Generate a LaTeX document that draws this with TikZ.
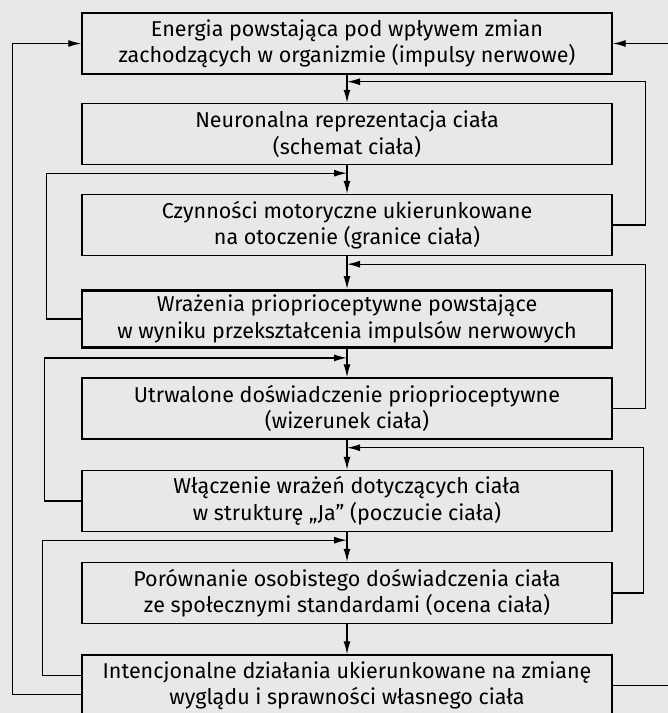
\documentclass[tikz,border=0pt]{standalone}
\usepackage{fontspec}
\setmainfont{Fira Sans}
\usetikzlibrary{arrows.meta}

\begin{document}
\begin{tikzpicture}[x=1pt, y=-1pt,
    box/.style={draw, line width=1.4pt, minimum width=530pt, minimum height=61pt,
        inner sep=0pt, align=center, font=\fontsize{21.5}{26.5}\selectfont},
    flow/.style={line width=1.3pt, -{Latex[length=13pt,width=7pt]}}]
    % Page and scanned paper
    \clip (0,0) rectangle (668,713);
    \fill[black!9] (0,0) rectangle (668,713);

    % Boxes
    \node[box] (b1) at (347,43.5) {Energia powstająca pod wpływem zmian\\zachodzących w organizmie (impulsy nerwowe)};
    \node[box] (b2) at (347,134) {Neuronalna reprezentacja ciała\\(schemat ciała)};
    \node[box] (b3) at (347,225) {Czynności motoryczne ukierunkowane\\na otoczenie (granice ciała)};
    \node[box, line width=2.8pt, minimum height=57pt] (b4) at (347,319) {Wrażenia prioprioceptywne powstające\\w wyniku przekształcenia impulsów nerwowych};
    \node[box] (b5) at (347,408.5) {Utrwalone doświadczenie prioprioceptywne\\(wizerunek ciała)};
    \node[box] (b6) at (347,501) {Włączenie wrażeń dotyczących ciała\\w strukturę „Ja” (poczucie ciała)};
    \node[box] (b7) at (347,593) {Porównanie osobistego doświadczenia ciała\\ze społecznymi standardami (ocena ciała)};
    \node[box] (b8) at (347,685.5) {Intencjonalne działania ukierunkowane na zmianę\\wyglądu i sprawności własnego ciała};

    % Junctions on the main line
    \coordinate (j1) at ([yshift=-7pt]b1.south);
    \coordinate (j2) at ([yshift=-8pt]b2.south);
    \coordinate (j3) at ([yshift=-8pt]b3.south);
    \coordinate (j4) at ([yshift=-9pt]b4.south);
    \coordinate (j5) at ([yshift=-8pt]b5.south);
    \coordinate (j6) at ([yshift=-8pt]b6.south);

    % Main line
    \draw[flow] (b1) -- (b2);
    \draw[flow] (b2) -- (b3);
    \draw[flow] (b3) -- (b4);
    \draw[flow] (b4) -- (b5);
    \draw[flow] (b5) -- (b6);
    \draw[flow] (b6) -- (b7);
    \draw[flow] (b7) -- (b8);

    % Feedback on the right
    \draw[flow] (b3.east) -- ++(33,0) |- (j1);
    \draw[flow] (b5.east) -- ++(33,0) |- (j3);
    \draw[flow] (b7.east) -- ++(31,0) |- (j5);

    % Feedback on the left
    \draw[flow] (b4.west) -- ++(-34,0) |- (j2);
    \draw[flow] (b6.west) -- ++(-37,0) |- (j4);
    \draw[flow] ([yshift=10pt]b8.west) -- ++(-39,0) |- (j6);

    % Outer loops back to the top
    \draw[flow] ([yshift=-9pt]b8.west) -- ++(-69,0) |- (b1.west);
    \draw[flow] (b8.east) -- ++(90,0) |- (b1.east);
\end{tikzpicture}
\end{document}
